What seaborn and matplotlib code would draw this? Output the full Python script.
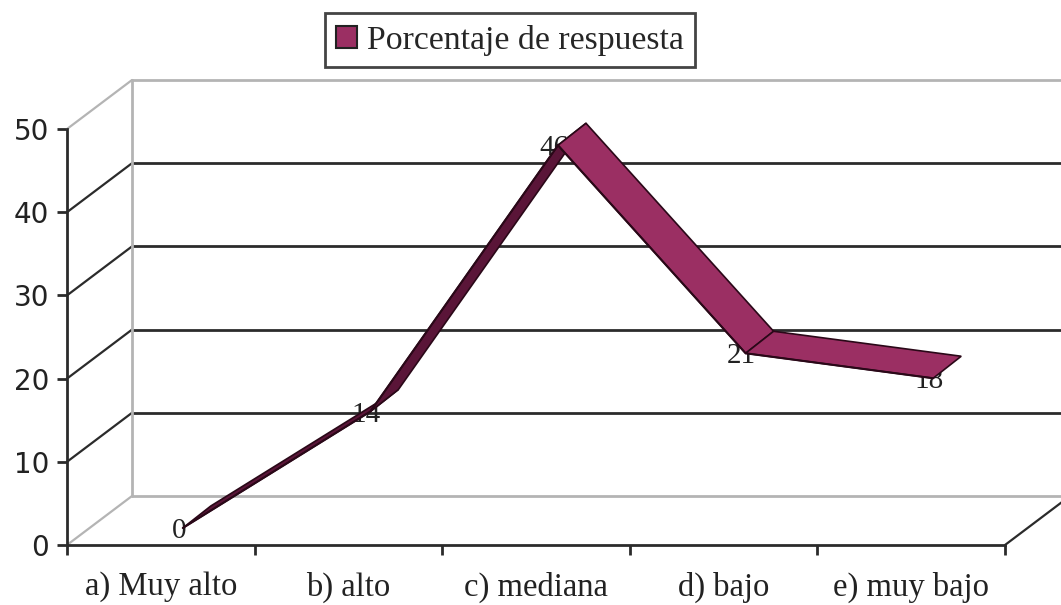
import numpy as np
import matplotlib
matplotlib.use("Agg")
import matplotlib.pyplot as plt
import matplotlib.transforms as mtrans
from matplotlib.patches import Polygon, Patch, ConnectionPatch
import seaborn as sns

# data
categories = ["a) Muy alto", "b) alto", "c) mediana", "d) bajo", "e) muy bajo"]
porcentaje = [0, 14, 46, 21, 18]
y_ticks = [0, 10, 20, 30, 40, 50]
serie = "Porcentaje de respuesta"

sns.set_theme(style="white")
plt.rcParams["font.family"] = ["DejaVu Sans"]

W, H = 1061, 605
fig = plt.figure(figsize=(W / 100, H / 100), dpi=100)
ax = fig.add_axes([67 / W, 60 / H, (1005 - 67) / W, (545 - 129) / H])
ax.set_facecolor("none")


def shift(dx, dy):
    # offset in pixels (fig is 100 dpi)
    return mtrans.ScaledTranslation(dx / 100, dy / 100, fig.dpi_scale_trans)


back = ax.transData + shift(65, 49)
front = ax.transData + shift(22, 17)

dark = "#2b2b2b"
light = "#b4b4b4"
plum = "#9b2f63"
plum_dark = "#5a1538"
edge = "#2a0818"

ax.set_xlim(-0.5, 4.5)
ax.set_ylim(0, 50)

# ---- fake 3D walls ----
for v in y_ticks:
    c = light if v in (0, 50) else dark
    ax.plot([-0.5, 4.5], [v, v], transform=back, color=c, lw=2, clip_on=False, zorder=1)
    ax.add_artist(ConnectionPatch((-0.5, v), (-0.5, v), coordsA=ax.transData, coordsB=back,
                                  color=c, lw=1.6, zorder=1, clip_on=False))
ax.plot([-0.5, -0.5], [0, 50], transform=back, color=light, lw=2, clip_on=False, zorder=1)
ax.add_artist(ConnectionPatch((4.5, 0), (4.5, 0), coordsA=ax.transData, coordsB=back,
                              color=dark, lw=1.6, zorder=1, clip_on=False))

# ---- ribbon line ----
pos = np.arange(len(categories))
sns.lineplot(x=pos, y=porcentaje, ax=ax, transform=front, color=edge, lw=1.5, zorder=4)
ax.set_xlim(-0.5, 4.5)
ax.set_ylim(0, 50)

pts = front.transform(np.column_stack([pos, porcentaje]))
depth = np.array([28, 22])
for i in range(len(pos) - 1):
    p0, p1 = pts[i], pts[i + 1]
    col = plum if porcentaje[i + 1] < porcentaje[i] else plum_dark
    ax.add_patch(Polygon([p0, p1, p1 + depth, p0 + depth], closed=True,
                         transform=mtrans.IdentityTransform(), facecolor=col,
                         edgecolor=edge, lw=1.2, clip_on=False, zorder=3))

for i, v in zip(pos, porcentaje):
    ax.text(i, v, str(v), transform=front + shift(-4, -3), ha="center", va="center",
            fontsize=21, family="Liberation Serif", color="#222222", zorder=2.5)

# ---- axes ----
for s in ["top", "right"]:
    ax.spines[s].set_visible(False)
for s in ["left", "bottom"]:
    ax.spines[s].set_color(dark)
    ax.spines[s].set_linewidth(2)

ax.set_yticks(y_ticks)
ax.tick_params(axis="y", left=True, direction="out", length=7, width=2, color=dark,
               labelsize=20, pad=6, labelcolor="#222222")
ax.set_xticks(np.arange(-0.5, 5, 1))
ax.set_xticklabels([])
ax.set_xticks(pos, minor=True)
ax.set_xticklabels(categories, minor=True, fontsize=23.5, family="Liberation Serif", color="#222222")
ax.tick_params(axis="x", which="major", bottom=True, direction="out", length=7, width=2, color=dark)
ax.tick_params(axis="x", which="minor", bottom=True, length=0, pad=19)
ax.set_xlabel("")
ax.set_ylabel("")

# ---- legend ----
handle = Patch(facecolor=plum, edgecolor="#222222", lw=1.5)
leg = fig.legend([handle], [serie], loc="center", bbox_to_anchor=(510 / W, 1 - 40 / H),
                 frameon=True, fancybox=False, edgecolor="#444444", framealpha=1,
                 prop={"family": "Liberation Serif", "size": 24.3},
                 handlelength=0.62, handleheight=0.62, handletextpad=0.3, borderpad=0.33)
leg.get_frame().set_linewidth(2)

fig.savefig("out.png", dpi=100)
